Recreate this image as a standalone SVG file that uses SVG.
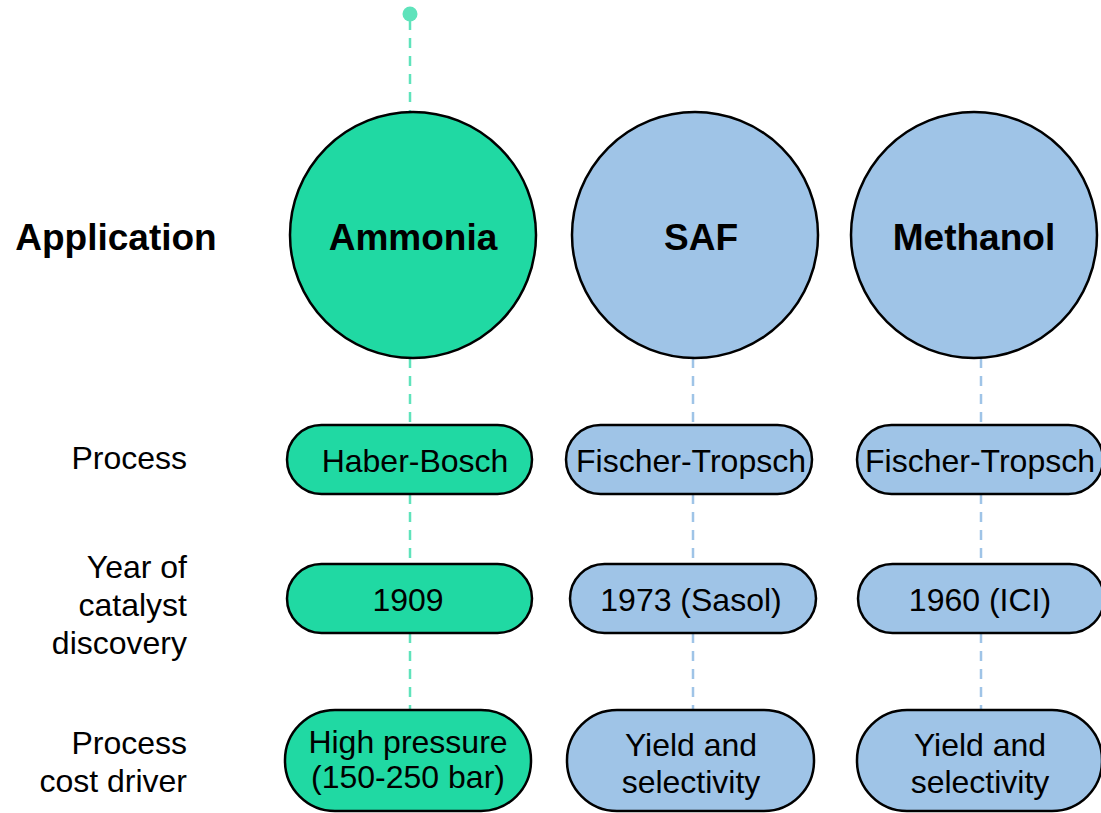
<svg xmlns="http://www.w3.org/2000/svg" width="1101" height="813" viewBox="0 0 1101 813">
<style>
.g{fill:#20d9a3;stroke:#000;stroke-width:2.5}
.b{fill:#9fc4e7;stroke:#000;stroke-width:2.5}
.t{font-family:"Liberation Sans",Arial,sans-serif;font-size:32px;fill:#000;text-anchor:middle}
.h{font-family:"Liberation Sans",Arial,sans-serif;font-size:37px;font-weight:bold;fill:#000;text-anchor:middle}
.l{font-family:"Liberation Sans",Arial,sans-serif;font-size:32px;fill:#000;text-anchor:end}
.dg{stroke:#5fe3bb;stroke-width:2.5;stroke-dasharray:10 8;fill:none}
.db{stroke:#9fc4e7;stroke-width:2.5;stroke-dasharray:10 8;fill:none}
</style>
<rect width="1101" height="813" fill="#fff"/>
<g id="connectors">
<circle cx="410" cy="14" r="7.5" fill="#5fe3bb"/>
<line class="dg" x1="410" y1="20" x2="410" y2="112"/>
<line class="dg" x1="410" y1="358" x2="410" y2="425"/>
<line class="dg" x1="410" y1="494" x2="410" y2="563"/>
<line class="dg" x1="410" y1="633" x2="410" y2="710"/>
<line class="db" x1="693" y1="358" x2="693" y2="425"/>
<line class="db" x1="693" y1="494" x2="693" y2="563"/>
<line class="db" x1="693" y1="633" x2="693" y2="710"/>
<line class="db" x1="981" y1="358" x2="981" y2="425"/>
<line class="db" x1="981" y1="494" x2="981" y2="563"/>
<line class="db" x1="981" y1="633" x2="981" y2="710"/>
</g>
<g id="row-labels">
<text class="h" x="116" y="250">Application</text>
<text class="l" x="187" y="469">Process</text>
<text class="l" x="187" y="578">Year of</text>
<text class="l" x="187" y="616">catalyst</text>
<text class="l" x="187" y="654">discovery</text>
<text class="l" x="187" y="754">Process</text>
<text class="l" x="187" y="792">cost driver</text>
</g>
<g id="ammonia">
<circle class="g" cx="413" cy="235" r="123"/>
<text class="h" x="413" y="250">Ammonia</text>
</g>
<g id="saf">
<circle class="b" cx="695" cy="235" r="123"/>
<text class="h" x="701" y="250">SAF</text>
</g>
<g id="methanol">
<circle class="b" cx="974" cy="235" r="123"/>
<text class="h" x="974" y="250">Methanol</text>
</g>
<g id="ammonia-process">
<rect class="g" x="287" y="425" width="245" height="69" rx="34.5"/>
<text class="t" x="415" y="472">Haber-Bosch</text>
</g>
<g id="saf-process">
<rect class="b" x="566" y="425" width="246" height="69" rx="34.5"/>
<text class="t" x="691" y="472">Fischer-Tropsch</text>
</g>
<g id="methanol-process">
<rect class="b" x="857" y="425" width="246" height="69" rx="34.5"/>
<text class="t" x="980" y="472">Fischer-Tropsch</text>
</g>
<g id="ammonia-year">
<rect class="g" x="287" y="564" width="245" height="69" rx="34.5"/>
<text class="t" x="408" y="611">1909</text>
</g>
<g id="saf-year">
<rect class="b" x="570" y="564" width="246" height="69" rx="34.5"/>
<text class="t" x="691" y="611">1973 (Sasol)</text>
</g>
<g id="methanol-year">
<rect class="b" x="858" y="564" width="246" height="69" rx="34.5"/>
<text class="t" x="980" y="611">1960 (ICI)</text>
</g>
<g id="ammonia-cost">
<rect class="g" x="285" y="710" width="246" height="101" rx="50"/>
<text class="t" x="408" y="753">High pressure</text>
<text class="t" x="408" y="788">(150-250 bar)</text>
</g>
<g id="saf-cost">
<rect class="b" x="567" y="710" width="247" height="101" rx="50"/>
<text class="t" x="691" y="756">Yield and</text>
<text class="t" x="691" y="793">selectivity</text>
</g>
<g id="methanol-cost">
<rect class="b" x="857" y="710" width="245" height="101" rx="50"/>
<text class="t" x="980" y="756">Yield and</text>
<text class="t" x="980" y="793">selectivity</text>
</g>
</svg>
